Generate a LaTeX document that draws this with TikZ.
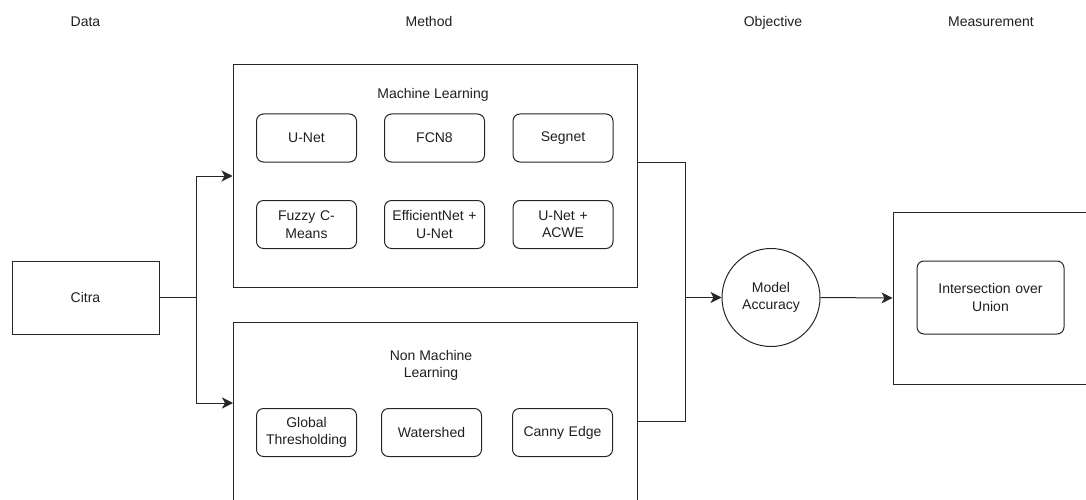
\documentclass[tikz,border=0pt]{standalone}
\usepackage{fontspec}
\setmainfont{Liberation Sans}
\usetikzlibrary{arrows.meta}
\tikzset{
  base/.style={draw=black!85, line width=1pt, font=\fontsize{14}{17.5}\selectfont, text=black!88, align=center, inner sep=2pt},
  inbox/.style={base, rectangle, rounded corners=7pt, minimum width=98pt, minimum height=48pt, text width=96pt},
  header/.style={font=\fontsize{14}{17.5}\selectfont, text=black!88, inner sep=0pt, anchor=base},
  conn/.style={draw=black!85, line width=1pt},
  arr/.style={conn, -{Stealth[length=11pt,width=11pt,inset=3pt]}},
}
\begin{document}
\begin{tikzpicture}[x=1pt, y=-1pt]
\useasboundingbox (0,0) rectangle (1086,500);
\clip (0,0) rectangle (1086,500);

% headers
\node[header] (hdata) at (85.5,26.5) {Data};
\node[header] (hmethod) at (429,26.5) {Method};
\node[header] (hobj) at (773,26.5) {Objective};
\node[header] (hmeas) at (991,26.5) {Measurement};

% main boxes
\node[base, minimum width=147pt, minimum height=73pt] (citra) at (85.5,297.5) {Citra};
\node[base, minimum width=404pt, minimum height=222pt] (ml) at (435,176) {};
\node[base, minimum width=404pt, minimum height=218pt] (nml) at (435,431) {};
\node[base, circle, minimum size=98pt, inner sep=0pt] (acc) at (771,297.5) {Model\\Accuracy};
\node[base, minimum width=210pt, minimum height=172pt] (meas) at (998,298) {};

% labels inside groups
\node[header] (mllabel) at (433,99) {Machine Learning};
\node[header, anchor=center, align=center] (nmllabel) at (431,365.5) {Non Machine\\Learning};

% ML inner boxes
\node[inbox] (unet) at (306.5,138) {U-Net};
\node[inbox] (fcn) at (434.5,138) {FCN8};
\node[inbox] (segnet) at (563,138) {Segnet};
\node[inbox] (fuzzy) at (306.5,224.5) {Fuzzy C-\\Means};
\node[inbox] (effnet) at (434.5,224.5) {EfficientNet +\\U-Net};
\node[inbox] (unetacwe) at (563,224.5) {U-Net +\\ACWE};

% NML inner boxes
\node[inbox] (global) at (306.5,432.5) {Global\\Thresholding};
\node[inbox] (water) at (431.5,432.5) {Watershed};
\node[inbox] (canny) at (562.5,432.5) {Canny Edge};

% IoU
\node[inbox, minimum width=147pt, minimum height=73pt, text width=140pt] (iou) at (990.5,297.5) {Intersection over\\Union};

% connectors
\coordinate (j1) at (196,297.5);
\coordinate (nmlin) at (233,403);
\coordinate (mlout) at (637,162);
\coordinate (nmlout) at (637,421);
\coordinate (j2) at (685,297.5);

\draw[conn] (citra.east) -- (j1);
\draw[arr] (j1) |- (ml.west);
\draw[arr] (j1) |- (nmlin);
\draw[conn] (mlout) -| (j2);
\draw[conn] (nmlout) -| (j2);
\draw[arr] (j2) -- (acc.west);
\draw[arr] (acc.east) -- (meas.west);
\end{tikzpicture}
\end{document}
